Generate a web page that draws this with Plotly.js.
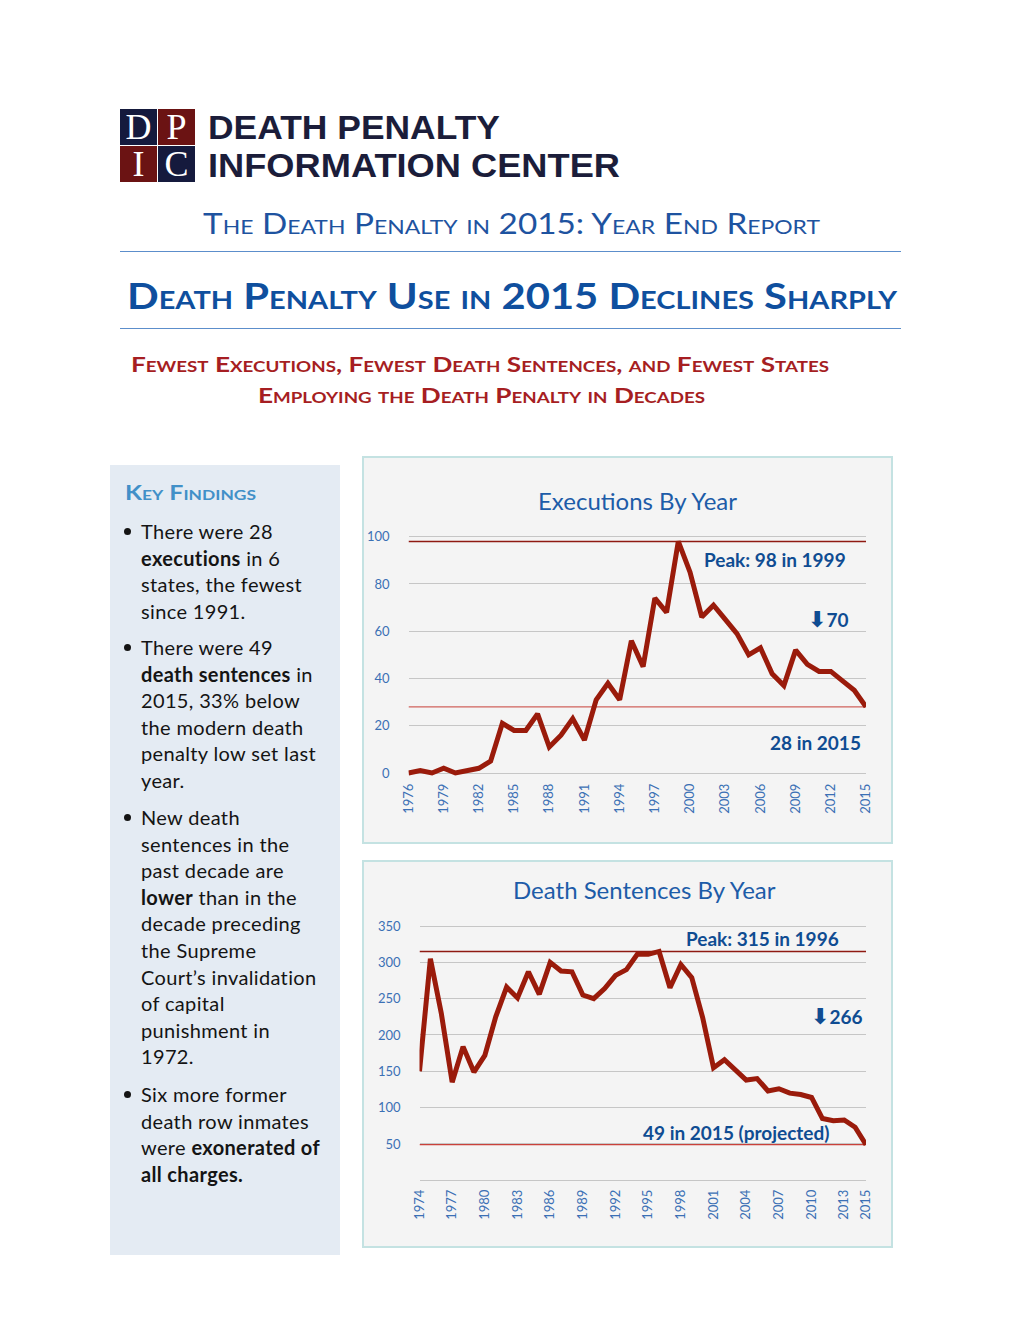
<!DOCTYPE html>
<html>
<head>
<meta charset="utf-8">
<script src="https://cdn.plot.ly/plotly-3.0.1.min.js"></script>
<style>
  html, body { margin:0; padding:0; background:#fff; }
  body { width:1020px; height:1320px; position:relative; overflow:hidden; font-family: Lato, "Open Sans", sans-serif; }
  #chart { position:absolute; left:0; top:0; width:1020px; height:1320px; }
  .t { position:absolute; white-space:nowrap; display:inline-block; transform-origin:left center; }
  .sq { position:absolute; width:37px; height:36px; color:#fff; font-family:"Liberation Serif","DejaVu Serif",serif; font-size:36px; line-height:36px; text-align:center; }
  .hr { position:absolute; left:120px; width:781px; height:0; border-top:1.5px solid #5c8ecb; }
  #side { position:absolute; left:110px; top:465px; width:230px; height:790px; background:#e4ebf3; }
  .b { position:absolute; left:141px; font-size:20px; line-height:26.6px; letter-spacing:0.35px; color:#141414; white-space:nowrap; }
  .b b { font-weight:700; }
  .dot { position:absolute; left:124px; width:7px; height:7px; border-radius:50%; background:#141414; }
  .hd { color:#1b1d3a; font-family:'Liberation Sans',Arial,sans-serif; font-weight:700; }
</style>
</head>
<body>
<div id="chart"></div>

<!-- logo -->
<div class="sq" style="left:120px;top:109px;background:#151a3d;">D</div>
<div class="sq" style="left:158px;top:109px;background:#6b1313;">P</div>
<div class="sq" style="left:120px;top:146px;background:#6b1313;">I</div>
<div class="sq" style="left:158px;top:146px;background:#151a3d;">C</div>

<span class="t fit hd" data-x="208" data-w="292" data-top="108.4" data-fs="34" data-lhpx="38">DEATH PENALTY</span>
<span class="t fit hd" data-x="208" data-w="412" data-top="146.4" data-fs="34" data-lhpx="38">INFORMATION CENTER</span>

<span class="t fit" data-cx="511.5" data-w="617" data-cy="224" data-fs="29" data-lh="1.1" style="color:#1e53a0;font-variant:small-caps;font-weight:400;">The Death Penalty in 2015: Year End Report</span>
<div class="hr" style="top:251px;"></div>
<span class="t fit" data-cx="512" data-w="770" data-cy="297" data-fs="36" data-lh="1.1" style="color:#0f4f9e;font-variant:small-caps;font-weight:700;">Death Penalty Use in 2015 Declines Sharply</span>
<div class="hr" style="top:328px;"></div>

<span class="t fit" data-cx="480" data-w="698" data-cy="364" data-fs="21" data-lh="1.1" style="color:#a61e22;font-variant:small-caps;font-weight:700;">Fewest Executions, Fewest Death Sentences, and Fewest States</span>
<span class="t fit" data-cx="481.5" data-w="447" data-cy="395.5" data-fs="21" data-lh="1.1" style="color:#a61e22;font-variant:small-caps;font-weight:700;">Employing the Death Penalty in Decades</span>

<div id="side"></div>
<span class="t fit" data-x="125" data-w="131" data-cy="493" data-fs="20" data-lh="1.1" style="color:#4190c8;font-variant:small-caps;font-weight:700;">Key Findings</span>

<div class="dot" style="top:528px;"></div>
<div class="b" style="top:518px;">There were 28<br><b>executions</b> in 6<br>states, the fewest<br>since 1991.</div>
<div class="dot" style="top:644px;"></div>
<div class="b" style="top:634px;">There were 49<br><b>death sentences</b> in<br>2015, 33% below<br>the modern death<br>penalty low set last<br>year.</div>
<div class="dot" style="top:814px;"></div>
<div class="b" style="top:804px;">New death<br>sentences in the<br>past decade are<br><b>lower</b> than in the<br>decade preceding<br>the Supreme<br>Court’s invalidation<br>of capital<br>punishment in<br>1972.</div>
<div class="dot" style="top:1091px;"></div>
<div class="b" style="top:1081px;">Six more former<br>death row inmates<br>were <b>exonerated of<br>all charges.</b></div>

<script>
// ---------------- DATA ----------------
const execYears = [1976,1977,1978,1979,1980,1981,1982,1983,1984,1985,1986,1987,1988,1989,1990,1991,1992,1993,1994,1995,
                   1996,1997,1998,1999,2000,2001,2002,2003,2004,2005,2006,2007,2008,2009,2010,2011,2012,2013,2014,2015];
const executions = [0,1,0,2,0,1,2,5,21,18,18,25,11,16,23,14,31,38,31,56,
                    45,74,68,98,85,66,71,65,59,50,53,42,37,52,46,43,43,39,35,28];
const execTickYears = [1976,1979,1982,1985,1988,1991,1994,1997,2000,2003,2006,2009,2012,2015];
const execYTicks = [0,20,40,60,80,100];

const sentYears = [1974,1975,1976,1977,1978,1979,1980,1981,1982,1983,1984,1985,1986,1987,1988,1989,1990,1991,1992,1993,1994,
                   1995,1996,1997,1998,1999,2000,2001,2002,2003,2004,2005,2006,2007,2008,2009,2010,2011,2012,2013,2014,2015];
const sentences = [150,305,230,135,184,149,172,225,266,251,287,256,300,288,287,255,250,264,282,290,311,
                   311,315,265,297,279,224,155,166,151,138,140,123,126,120,118,114,85,82,83,73,49];
const sentTickYears = [1974,1977,1980,1983,1986,1989,1992,1995,1998,2001,2004,2007,2010,2013,2015];
const sentYTicks = [0,50,100,150,200,250,300,350];
const sentYTickText = ['','50','100','150','200','250','300','350'];

const execTitle = 'Executions By Year';
const sentTitle = 'Death Sentences By Year';
const execPeakLabel = 'Peak: 98 in 1999';
const execDropLabel = '70';
const execLowLabel = '28 in 2015';
const sentPeakLabel = 'Peak: 315 in 1996';
const sentDropLabel = '266';
const sentLowLabel = '49 in 2015 (projected)';
const downArrow = '⬇';

// ---------------- LAYOUT HELPERS ----------------
const W = 1020, H = 1320;
const px = x => x / W;
const py = y => 1 - y / H;

const tickBlue = '#3b70b5';
const lineRed = '#9a1b0b';
const annBlue = '#0f4c92';
const FONT = 'Lato, "Open Sans", sans-serif';

const execPeak = Math.max(...executions);
const execLow = executions[executions.length - 1];
const sentPeak = Math.max(...sentences);
const sentLow = sentences[sentences.length - 1];

const arrowText = s => '<span style="font-family:\'DejaVu Sans\';font-size:22px">' + downArrow + '</span>' + s;

const traces = [
  { x: execYears, y: executions, type: 'scatter', mode: 'lines', xaxis: 'x', yaxis: 'y',
    line: { color: lineRed, width: 5, shape: 'linear' }, hoverinfo: 'skip' },
  { x: sentYears, y: sentences, type: 'scatter', mode: 'lines', xaxis: 'x2', yaxis: 'y2',
    line: { color: lineRed, width: 5, shape: 'linear' }, hoverinfo: 'skip' }
];

const axisX = (dom, range, ticks, anchor) => ({
  domain: dom, range: range, anchor: anchor, tickvals: ticks, ticktext: ticks.map(String),
  tickangle: -90, tickfont: { family: FONT, size: 13, color: tickBlue },
  showgrid: false, zeroline: false, showline: false, ticks: '', fixedrange: true
});

const labelFont = { family: FONT, size: 19, color: annBlue, weight: 'bold' };
const ann = (text, x, y, font) => ({ text: text, xref: 'paper', yref: 'paper', x: px(x), y: py(y),
  xanchor: 'center', yanchor: 'middle', showarrow: false, font: font || labelFont });
const titleFont = { family: FONT, size: 24, color: '#1d5ca8' };

const layout = {
  width: W, height: H,
  margin: { l: 0, r: 0, t: 0, b: 0, pad: 0 },
  paper_bgcolor: 'rgba(0,0,0,0)', plot_bgcolor: 'rgba(0,0,0,0)',
  showlegend: false,
  font: { family: FONT },
  xaxis: axisX([px(408.5), px(866)], [execYears[0], execYears[execYears.length - 1]], execTickYears, 'y'),
  yaxis: { domain: [py(780.1), py(529.6)], range: [-3, 103], anchor: 'x', tickvals: execYTicks,
    tickfont: { family: FONT, size: 13, color: tickBlue }, showgrid: true, gridcolor: '#c6c6c6', gridwidth: 1,
    zeroline: false, showline: false, ticks: '', ticklabelstandoff: 18, fixedrange: true },
  xaxis2: axisX([px(419.5), px(866)], [sentYears[0], sentYears[sentYears.length - 1]], sentTickYears, 'y2'),
  yaxis2: { domain: [py(1186.1), py(920.2)], range: [-8, 358], anchor: 'x2', tickvals: sentYTicks, ticktext: sentYTickText,
    tickfont: { family: FONT, size: 13, color: tickBlue }, showgrid: true, gridcolor: '#c6c6c6', gridwidth: 1,
    zeroline: false, showline: false, ticks: '', ticklabelstandoff: 18, fixedrange: true },
  shapes: [
    { type: 'rect', xref: 'paper', yref: 'paper', x0: px(363), x1: px(892), y0: py(843), y1: py(457),
      fillcolor: '#f4f4f4', line: { color: '#c4e2e2', width: 2 }, layer: 'below' },
    { type: 'rect', xref: 'paper', yref: 'paper', x0: px(363), x1: px(892), y0: py(1247), y1: py(861),
      fillcolor: '#f4f4f4', line: { color: '#c4e2e2', width: 2 }, layer: 'below' },
    { type: 'line', xref: 'x', yref: 'y', x0: execYears[0], x1: execYears[execYears.length - 1], y0: execPeak, y1: execPeak,
      line: { color: '#8f1a12', width: 1.5 }, layer: 'below' },
    { type: 'line', xref: 'x', yref: 'y', x0: execYears[0], x1: execYears[execYears.length - 1], y0: execLow, y1: execLow,
      line: { color: '#d0625c', width: 1.3 }, layer: 'below' },
    { type: 'line', xref: 'x2', yref: 'y2', x0: sentYears[0], x1: sentYears[sentYears.length - 1], y0: sentPeak, y1: sentPeak,
      line: { color: '#8f1a12', width: 1.5 }, layer: 'below' },
    { type: 'line', xref: 'x2', yref: 'y2', x0: sentYears[0], x1: sentYears[sentYears.length - 1], y0: sentLow, y1: sentLow,
      line: { color: '#c9413a', width: 1.3 }, layer: 'below' }
  ],
  annotations: [
    ann(execTitle, 637, 501, titleFont),
    ann(sentTitle, 644, 889, titleFont),
    ann(execPeakLabel, 775, 559),
    ann(arrowText(execDropLabel), 828, 619),
    ann(execLowLabel, 815, 742),
    ann(sentPeakLabel, 762, 939),
    ann(arrowText(sentDropLabel), 837, 1016),
    ann(sentLowLabel, 735.5, 1132)
  ]
};

Plotly.newPlot('chart', traces, layout, { staticPlot: true, displayModeBar: false });

// ---------------- fit page text to reference widths ----------------
function fitAll() {
  document.querySelectorAll('.fit').forEach(el => {
    const fs = parseFloat(el.dataset.fs);
    el.style.fontSize = fs + 'px';
    let top;
    if (el.dataset.lhpx) {
      el.style.lineHeight = el.dataset.lhpx + 'px';
      top = parseFloat(el.dataset.top);
    } else {
      const lh = parseFloat(el.dataset.lh || '1.2');
      el.style.lineHeight = lh;
      top = parseFloat(el.dataset.cy) - (0.629 + (lh - 1.2) / 2) * fs;
    }
    el.style.transform = 'none';
    const w = el.getBoundingClientRect().width;
    const target = parseFloat(el.dataset.w);
    const s = target / w;
    const left = el.dataset.cx ? parseFloat(el.dataset.cx) - target / 2 : parseFloat(el.dataset.x);
    el.style.left = left + 'px';
    el.style.top = top + 'px';
    el.style.transform = 'scaleX(' + s + ')';
  });
}
fitAll();
if (document.fonts && document.fonts.ready) document.fonts.ready.then(fitAll);
</script>
</body>
</html>
